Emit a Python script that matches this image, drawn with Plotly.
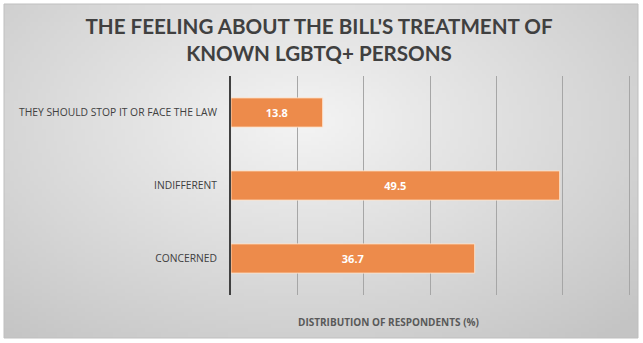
import base64, struct, zlib
import plotly.graph_objects as go

categories = ["THEY SHOULD STOP IT OR FACE THE LAW", "INDIFFERENT", "CONCERNED"]
values = [13.8, 49.5, 36.7]
title_text = "THE FEELING ABOUT THE BILL'S TREATMENT OF<br>KNOWN LGBTQ+ PERSONS"
x_title = "DISTRIBUTION OF RESPONDENTS (%)"

# --- radial gradient background image (style only) ---
W, H = 160, 84
cx, cy = 0.47, 0.35
rows = []
for j in range(H):
    row = bytearray([0])
    for i in range(W):
        dx = (i / (W - 1) - cx) / 0.75
        dy = (j / (H - 1) - cy) / 0.85
        d = min(1.0, (dx * dx + dy * dy) ** 0.5)
        v = int(round(244 - (244 - 196) * d))
        row += bytes([v, v, v])
    rows.append(bytes(row))
raw = b"".join(rows)
def chunk(t, d):
    c = struct.pack(">I", len(d)) + t + d
    return c + struct.pack(">I", zlib.crc32(t + d) & 0xffffffff)
png = b"\x89PNG\r\n\x1a\n" + chunk(b"IHDR", struct.pack(">IIBBBBB", W, H, 8, 2, 0, 0, 0)) \
      + chunk(b"IDAT", zlib.compress(raw)) + chunk(b"IEND", b"")
uri = "data:image/png;base64," + base64.b64encode(png).decode()

L, R, T, B = 231, 636, 76, 295
def px(x): return (x - L) / (R - L)
def py(y): return (B - y) / (B - T)

fig = go.Figure(go.Bar(
    x=values, y=categories, orientation="h",
    marker=dict(color="#ED8B4B", line=dict(color="rgba(255,225,200,0.9)", width=1)),
    width=0.4,
    text=values, texttemplate="%{x:.1f}", textposition="inside",
    insidetextanchor="middle",
    textfont=dict(family="Open Sans", size=11, color="white", weight="bold"),
    hoverinfo="skip",
))

fig.update_layout(
    width=643, height=343,
    margin=dict(l=L, r=643 - R, t=T, b=343 - B),
    paper_bgcolor="white", plot_bgcolor="rgba(0,0,0,0)",
    showlegend=False,
    title=dict(text=title_text, x=319 / 643, xref="container", xanchor="center",
               y=1 - 34 / 343, yref="container", yanchor="middle",
               font=dict(family="Lato", size=20.6, color="#404040", weight="bold")),
    xaxis=dict(range=[0, 61], tickvals=[10, 20, 30, 40, 50, 60], showticklabels=False,
               showgrid=True, gridcolor="#a6a6a6", gridwidth=1, zeroline=False,
               showline=False, fixedrange=True),
    yaxis=dict(categoryorder="array", categoryarray=categories[::-1],
               showline=True, linecolor="#404040", linewidth=2, ticks="",
               tickfont=dict(family="Open Sans", size=10.3, color="#404040"),
               ticklabelstandoff=10, showgrid=False, fixedrange=True),
    images=[dict(source=uri, xref="paper", yref="paper", x=px(4), y=py(4),
                 sizex=px(638) - px(4), sizey=py(4) - py(338),
                 xanchor="left", yanchor="top", sizing="stretch", layer="below")],
    shapes=[dict(type="rect", xref="paper", yref="paper", x0=px(4), x1=px(638),
                 y0=py(338), y1=py(4), line=dict(color="#bfbfbf", width=1), layer="below")],
    annotations=[dict(text=x_title, xref="paper", yref="paper", x=px(388), y=py(322),
                      xanchor="center", yanchor="middle", showarrow=False,
                      font=dict(family="Open Sans", size=10, color="#595959", weight="bold"))],
)
fig.write_html("out.html")
